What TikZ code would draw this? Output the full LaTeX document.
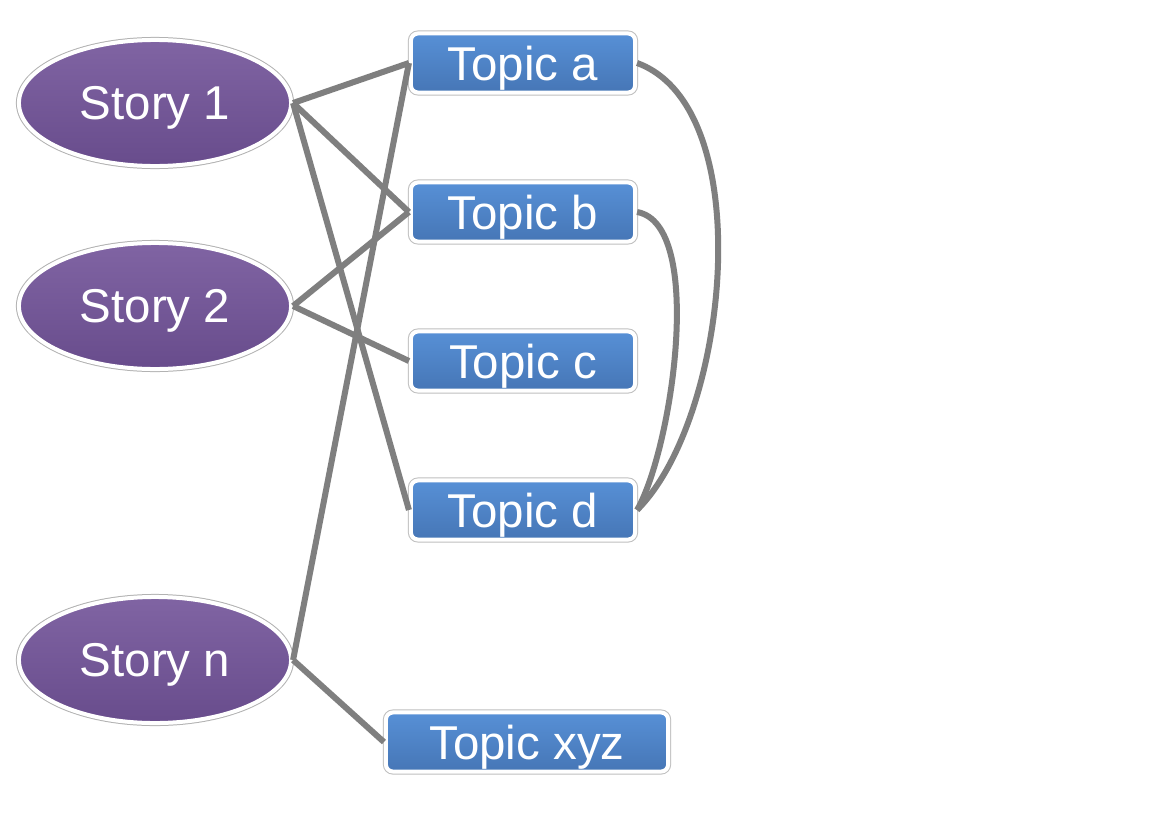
\documentclass[tikz,border=0pt]{standalone}
\usepackage{fontspec}
\setmainfont{Liberation Sans}
\usetikzlibrary{shapes.geometric}
\definecolor{storytop}{HTML}{8064A3}
\definecolor{storymid}{HTML}{7A5C9B}
\definecolor{storybot}{HTML}{684C8C}
\definecolor{topictop}{HTML}{5790D6}
\definecolor{topicmid}{HTML}{5189CF}
\definecolor{topicbot}{HTML}{4676B6}
\definecolor{linkgray}{HTML}{7F7F7F}
\begin{document}
\begin{tikzpicture}[x=0.01cm, y=-0.01cm,
  story/.style={ellipse, minimum width=2.72cm, minimum height=1.26cm, inner sep=0pt,
    top color=storytop, middle color=storymid, bottom color=storybot,
    draw=white, line width=0.04cm, preaction={draw=black!30, line width=0.06cm},
    text=white, text depth=0pt, font=\fontsize{13.5}{16}\selectfont},
  topic/.style={rectangle, rounded corners=0.07cm, minimum width=2.24cm, minimum height=0.59cm, inner sep=0pt,
    top color=topictop, middle color=topicmid, bottom color=topicbot,
    draw=white, line width=0.04cm, preaction={draw=black!25, line width=0.06cm},
    text=white, text depth=0pt, font=\fontsize{13.5}{16}\selectfont},
  link/.style={draw=linkgray, line width=0.06cm}]
  \fill[white] (0,0) rectangle (1152,824);
  \node[story] (s1) at (155,103) {Story 1};
  \node[story] (s2) at (155,306) {Story 2};
  \node[story] (sn) at (155,660) {Story n};
  \node[topic] (ta) at (523,63) {Topic a};
  \node[topic] (tb) at (523,212) {Topic b};
  \node[topic] (tc) at (523,361) {Topic c};
  \node[topic] (td) at (523,510) {Topic d};
  \node[topic, minimum width=2.82cm] (txyz) at (527,742) {Topic xyz};
  \draw[link] (s1.east) -- (ta.west);
  \draw[link] (s1.east) -- (tb.west);
  \draw[link] (s1.east) -- (td.west);
  \draw[link] (s2.east) -- (tb.west);
  \draw[link] (s2.east) -- (tc.west);
  \draw[link] (sn.east) -- (ta.west);
  \draw[link] (sn.east) -- (txyz.west);
  \draw[link] (ta.east) to[out=-20, in=45, looseness=0.75] (td.east);
  \draw[link] (tb.east) to[out=-10, in=60, looseness=0.6] (td.east);
\end{tikzpicture}
\end{document}
